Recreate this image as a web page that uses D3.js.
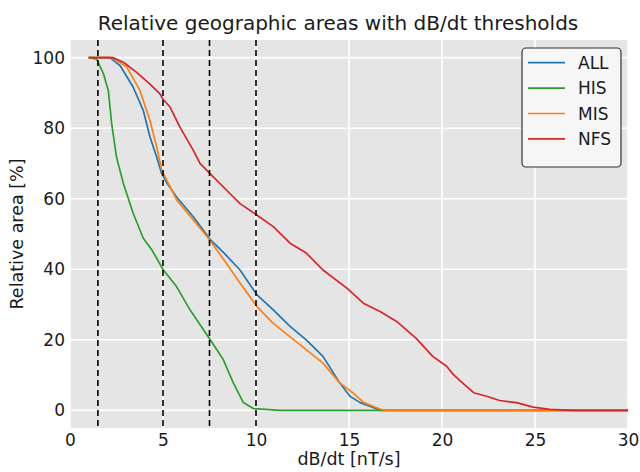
<!DOCTYPE html>
<html><head><meta charset="utf-8">
<script src="https://cdn.jsdelivr.net/npm/d3@7"></script>
<style>body{margin:0;background:#fff}svg{display:block}text{font-family:"DejaVu Sans",sans-serif;fill:#1a1a1a}</style>
</head><body><svg id="c" width="640" height="472"></svg>
<script>
const seriesNames = ["ALL","HIS","MIS","NFS"];
const seriesColors = ["#1f77b4","#2ca02c","#ff7f0e","#d62728"];
const xTicks = [0,5,10,15,20,25,30];
const yTicks = [0,20,40,60,80,100];
const thresholds = [1.5,5,7.5,10];
const allX = [1.0,2.15,2.7,3.4,3.94,4.3,4.66,4.93,5.2,5.73,6.63,7.53,8.3,9.14,10.04,10.93,11.83,12.7,13.6,14.5,15.05,15.6,16.3,16.7,30];
const allY = [100,100,97.7,91.6,85,77.5,71.8,67.1,64.5,60.5,54.9,48.5,44.5,39.8,32.8,28.5,23.8,20,15.3,7.8,4.0,2.2,0.8,0,0];
const hisX = [1.0,1.43,1.8,2.06,2.24,2.5,2.87,3.4,3.94,4.4,5.02,5.73,6.45,7.53,8.24,8.78,9.32,9.86,10.5,11.3,30];
const hisY = [100,99.6,95.4,90.7,81.3,71.8,64.3,55.8,48.8,45.5,39.8,35.1,28.5,20.1,14.4,7.8,2.2,0.5,0.3,0,0];
const misX = [1.0,2.3,3.05,3.76,4.3,4.66,4.93,5.74,6.63,7.44,8.3,9.14,10.04,10.9,11.8,12.7,13.6,14.5,15.2,15.8,16.7,17.0,30];
const misY = [100,100,97.3,90.7,82.2,74.7,68.1,59.6,54,48.8,42.5,36.1,29.5,24.8,21,17.2,13.4,7.8,5,2.2,0.3,0,0];
const nfsX = [1.0,2.3,2.87,3.58,4.3,4.84,5.0,5.38,5.91,6.63,6.99,7.53,8.42,9.14,10.04,10.93,11.83,12.7,13.6,14.9,15.77,16.67,17.56,18.6,19.5,20.25,20.6,21.1,21.7,22.4,23.1,24.0,24.9,25.8,27,30];
const nfsY = [100,100,98.7,95.8,92.5,89.7,88.2,86,80.3,73.7,70,67.1,62.4,58.6,55.4,52.1,47.4,44.6,39.8,34.6,30.4,28,25.2,20.5,15.3,12.5,10.2,7.8,5,4,2.8,2.2,0.9,0.3,0,0];
const seriesX = [allX,hisX,misX,nfsX];
const seriesY = [allY,hisY,misY,nfsY];

const svg = d3.select("#c");
const L=70,R=628,T=40,B=428;
const x = d3.scaleLinear().domain([0,30]).range([L,R]);
const y = d3.scaleLinear().domain([-5,105]).range([B,T]);

svg.append("rect").attr("x",L).attr("y",T).attr("width",R-L).attr("height",B-T).attr("fill","#e5e5e5");
const g = svg.append("g");
g.selectAll(".gx").data(xTicks).join("line").attr("x1",d=>x(d)).attr("x2",d=>x(d)).attr("y1",T).attr("y2",B).attr("stroke","#fff").attr("stroke-width",1.6);
g.selectAll(".gy").data(yTicks).join("line").attr("y1",d=>y(d)).attr("y2",d=>y(d)).attr("x1",L).attr("x2",R).attr("stroke","#fff").attr("stroke-width",1.6);

const xAxis = svg.append("g").attr("transform",`translate(0,${B})`).call(d3.axisBottom(x).tickValues(xTicks).tickSize(0).tickPadding(6));
const yAxis = svg.append("g").attr("transform",`translate(${L},0)`).call(d3.axisLeft(y).tickValues(yTicks).tickSize(0).tickPadding(5));
[xAxis,yAxis].forEach(a=>{a.select(".domain").remove();a.selectAll("text").attr("font-size",17).attr("font-family","DejaVu Sans").attr("fill","#1a1a1a");});

const line = d3.line().x(d=>x(d[0])).y(d=>y(d[1]));
seriesNames.forEach((n,i)=>{
  const pts = seriesX[i].map((v,j)=>[v,seriesY[i][j]]);
  svg.append("path").attr("d",line(pts)).attr("fill","none").attr("stroke",seriesColors[i]).attr("stroke-width",1.7).attr("stroke-linejoin","round");
});
svg.selectAll(".th").data(thresholds).join("line").attr("x1",d=>x(d)).attr("x2",d=>x(d)).attr("y1",T).attr("y2",B)
  .attr("stroke","#000").attr("stroke-width",1.6).attr("stroke-dasharray","6,4");

svg.append("text").attr("x",338).attr("y",30).attr("text-anchor","middle").attr("font-size",20).text("Relative geographic areas with dB/dt thresholds");
svg.append("text").attr("x",(L+R)/2).attr("y",465).attr("text-anchor","middle").attr("font-size",17.5).text("dB/dt [nT/s]");
svg.append("text").attr("transform",`translate(23,${(T+B)/2}) rotate(-90)`).attr("text-anchor","middle").attr("font-size",17.5).text("Relative area [%]");

const lg = svg.append("g");
lg.append("rect").attr("x",522).attr("y",48).attr("width",99).attr("height",119).attr("rx",4).attr("fill","#f7f7f7").attr("fill-opacity",0.95).attr("stroke","#333").attr("stroke-width",1.2);
seriesNames.forEach((n,i)=>{
  const yy = 62.7 + i*25.4;
  lg.append("line").attr("x1",528).attr("x2",565).attr("y1",yy).attr("y2",yy).attr("stroke",seriesColors[i]).attr("stroke-width",1.7);
  lg.append("text").attr("x",578).attr("y",yy+6).attr("font-size",17).text(n);
});
</script></body></html>
